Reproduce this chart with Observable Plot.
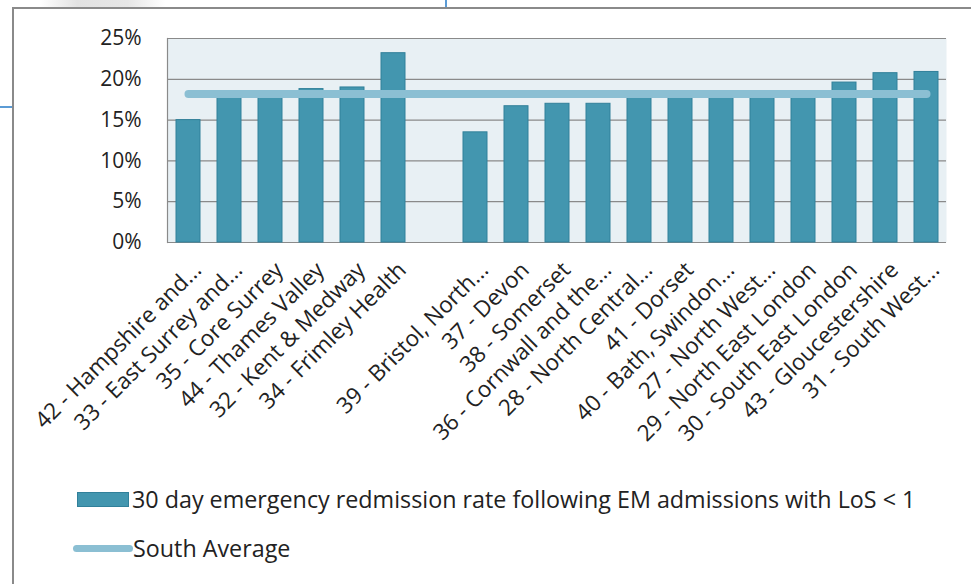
<!DOCTYPE html>
<html>
<head>
<meta charset="utf-8">
<script src="https://cdn.jsdelivr.net/npm/d3@7"></script>
<script src="https://cdn.jsdelivr.net/npm/@observablehq/plot@0.6"></script>
<style>
  html, body { margin: 0; padding: 0; background: #fff; }
  body { width: 971px; height: 584px; position: relative; overflow: hidden; font-family: "Open Sans", sans-serif; }
  #box { position: absolute; left: 12px; top: 7px; width: 1000px; height: 700px; border-left: 2px solid #8a8a8a; border-top: 2px solid #8a8a8a; }
  #chart { position: absolute; left: 0; top: 0; }
  #legend { position: absolute; left: 0; top: 0; width: 971px; }
  .lg { position: absolute; display: flex; align-items: center; color: #222; font-size: 23.3px; white-space: nowrap; line-height: 1; }
  .sw-bar { width: 52px; height: 15px; background: #4396af; border: 1px solid #31809a; box-sizing: border-box; }
  .sw-line { width: 60px; height: 7px; background: #8bbfd3; border-radius: 4px; }
  .deco1 { position: absolute; left: 445px; top: 0; width: 2px; height: 7px; background: #5b9bd5; }
  .deco2 { position: absolute; left: 0; top: 106px; width: 12px; height: 2px; background: #5b9bd5; }
  .deco3 { position: absolute; left: 40px; top: 0; width: 125px; height: 7px; background: linear-gradient(90deg, rgba(220,220,220,0), #e2e2e2 30%, #e6e6e6 70%, rgba(220,220,220,0)); }
</style>
</head>
<body>
<div class="deco3"></div>
<div class="deco1"></div>
<div class="deco2"></div>
<div id="box"></div>
<div id="chart"></div>
<div id="legend"></div>
<script>
const categories = [
  "42 - Hampshire and...",
  "33 - East Surrey and...",
  "35 - Core Surrey",
  "44 - Thames Valley",
  "32 - Kent & Medway",
  "34 - Frimley Health",
  " ",
  "39 - Bristol, North...",
  "37 - Devon",
  "38 - Somerset",
  "36 - Cornwall and the...",
  "28 - North Central...",
  "41 - Dorset",
  "40 - Bath, Swindon...",
  "27 - North West...",
  "29 - North East London",
  "30 - South East London",
  "43 - Gloucestershire",
  "31 - South West..."
];
const rates = [0.150, 0.180, 0.181, 0.188, 0.190, 0.232, null, 0.135, 0.167, 0.170, 0.170, 0.180, 0.180, 0.181, 0.181, 0.182, 0.196, 0.2075, 0.209];
const southAverage = 0.182;
const yTicks = [0, 0.05, 0.10, 0.15, 0.20, 0.25];
const seriesNames = ["30 day emergency redmission rate following EM admissions with LoS < 1", "South Average"];

const barData = categories.map((c, i) => ({category: c, rate: rates[i]})).filter(d => d.rate != null);
const avgData = [categories[0], categories[categories.length - 1]].map(c => ({category: c, avg: southAverage}));

const font = "'Open Sans', sans-serif";
const chart = Plot.plot({
  width: 971,
  height: 450,
  marginLeft: 167,
  marginRight: 25,
  marginTop: 38,
  marginBottom: 208,
  style: {fontFamily: font, background: "transparent", color: "#222"},
  x: {domain: categories, paddingInner: 0.415, paddingOuter: 0.2075, label: null},
  y: {domain: [0, 0.25], ticks: yTicks, label: null},
  marks: [
    Plot.frame({fill: "#e8f0f4", stroke: null}),
    Plot.gridY(yTicks, {stroke: "#8a8a8a", strokeOpacity: 1, strokeWidth: 1.2}),
    Plot.frame({anchor: "left", stroke: "#8a8a8a", strokeWidth: 1.2}),
    Plot.barY(barData, {x: "category", y: "rate", fill: "#4396af", stroke: "#31809a", strokeWidth: 1}),
    Plot.lineY(avgData, {x: "category", y: "avg", stroke: "#8bbfd3", strokeWidth: 8, strokeLinecap: "round"}),
    Plot.axisY({ticks: yTicks, tickFormat: d3.format(".0%"), tickSize: 0, tickPadding: 26, fontSize: 21, fill: "#222", label: null}),
    Plot.axisX({tickSize: 0, tickRotate: -45, fontSize: 22.5, fill: "#222", dx: 9, dy: 12, label: null})
  ]
});
document.getElementById("chart").appendChild(chart);

const legend = document.getElementById("legend");
legend.innerHTML = `
  <div class="lg" style="left:77px; top:488px;"><div class="sw-bar"></div><span style="margin-left:3px">${seriesNames[0]}</span></div>
  <div class="lg" style="left:73px; top:537px;"><div class="sw-line"></div><span style="margin-left:0px">${seriesNames[1]}</span></div>
`;
</script>
</body>
</html>
